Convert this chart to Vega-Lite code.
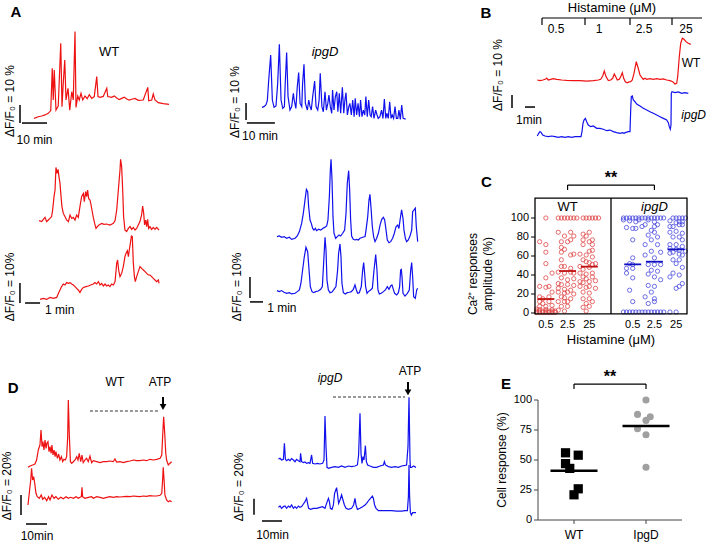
{
"$schema": "https://vega.github.io/schema/vega-lite/v6.json",
"width": 709, "height": 543, "padding": 0, "autosize": {"type": "none"},
"background": "white",
"config": {"view": {"stroke": null}, "font": "Liberation Sans", "text": {"fontSize": 12, "color": "black"}},
"resolve": {"scale": {"x": "independent", "y": "independent", "xOffset": "independent", "color": "independent"}},
"layer": [
{"layer": [
 {"data": {"values": [{"t":0,"v":-0.2},{"t":1.7,"v":0.7},{"t":3.1,"v":1.1},{"t":4.4,"v":1.7},{"t":5.7,"v":2.6},{"t":6.7,"v":4.1},{"t":7.3,"v":27.6},{"t":7.7,"v":10},{"t":8.1,"v":26.7},{"t":8.8,"v":4.4},{"t":9.7,"v":6.7},{"t":10.7,"v":41.5},{"t":11.2,"v":6.3},{"t":11.7,"v":19.3},{"t":12.3,"v":32.2},{"t":12.8,"v":10},{"t":13.6,"v":16.5},{"t":14.3,"v":4.4},{"t":15.1,"v":14.6},{"t":15.7,"v":10},{"t":16.4,"v":48},{"t":16.8,"v":5.9},{"t":17.5,"v":12.2},{"t":18.1,"v":10},{"t":18.8,"v":13.7},{"t":19.5,"v":10},{"t":20.4,"v":12.2},{"t":21.3,"v":10.7},{"t":22.1,"v":13},{"t":23.1,"v":10.9},{"t":24.1,"v":11.9},{"t":25.1,"v":23},{"t":25.6,"v":11.9},{"t":26.4,"v":11.5},{"t":27.7,"v":12},{"t":29.1,"v":16.5},{"t":29.5,"v":11.9},{"t":31.1,"v":11.5},{"t":32.1,"v":12.3},{"t":33.1,"v":11.1},{"t":34.1,"v":10.2},{"t":35.1,"v":10.9},{"t":36.1,"v":11.6},{"t":37.1,"v":10.6},{"t":38.1,"v":9.9},{"t":39.1,"v":10.4},{"t":40.4,"v":10.9},{"t":41.7,"v":9.8},{"t":43.7,"v":10},{"t":45.5,"v":17},{"t":45.9,"v":9.6},{"t":47.1,"v":10},{"t":47.7,"v":13.3},{"t":48.4,"v":10},{"t":49.7,"v":8.5},{"t":51.7,"v":8},{"t":54,"v":7.6}]},
  "mark": {"type": "line", "color": "#ee1111", "strokeWidth": 1.2},
  "encoding": {"x": {"field": "t", "type": "quantitative", "scale": {"domain": [0, 54], "range": [34, 169], "nice": false, "zero": false}, "axis": null},
               "y": {"field": "v", "type": "quantitative", "scale": {"domain": [0, 50], "range": [118, 28], "nice": false, "zero": false}, "axis": null}}},
 {"data": {"values": [{}]}, "mark": {"type": "rule", "color": "black", "strokeWidth": 1.5}, "encoding": {"x": {"datum": -5.6, "axis": null}, "y": {"datum": -2.8, "axis": null}, "y2": {"datum": 7.2}}},
 {"data": {"values": [{}]}, "mark": {"type": "rule", "color": "black", "strokeWidth": 1.5}, "encoding": {"x": {"datum": -4.8, "axis": null}, "x2": {"datum": 5.2}, "y": {"datum": -2.8, "axis": null}}},
 {"data": {"values": [{}]}, "mark": {"type": "text", "text": "10 min", "fontSize": 12}, "encoding": {"x": {"datum": 0.2, "axis": null}, "y": {"datum": -12.2, "axis": null}}},
 {"data": {"values": [{}]}, "mark": {"type": "text", "text": "ΔF/F₀ = 10 %", "fontSize": 12, "angle": 270}, "encoding": {"x": {"datum": -9.6, "axis": null}, "y": {"datum": 9.4, "axis": null}}},
 {"data": {"values": [{}]}, "mark": {"type": "text", "text": "WT", "fontSize": 13}, "encoding": {"x": {"datum": 30, "axis": null}, "y": {"datum": 36.7, "axis": null}}},
 {"data": {"values": [{}]}, "mark": {"type": "text", "text": "A", "fontSize": 15, "fontWeight": "bold"}, "encoding": {"x": {"datum": -7.2, "axis": null}, "y": {"datum": 58.9, "axis": null}}}
]},
{"layer": [
 {"data": {"values": [{"t":0,"v":0.4},{"t":0.7,"v":0.8},{"t":1.4,"v":1.8},{"t":1.9,"v":4.3},{"t":2.4,"v":16.5},{"t":3.1,"v":31.2},{"t":3.7,"v":4.7},{"t":4.3,"v":0.4},{"t":5,"v":1.2},{"t":5.6,"v":14.5},{"t":6.2,"v":37.5},{"t":6.8,"v":4.7},{"t":7.4,"v":-0.2},{"t":8,"v":0.8},{"t":8.3,"v":14.5},{"t":8.8,"v":32.7},{"t":9.3,"v":6.7},{"t":10,"v":-1.2},{"t":10.6,"v":0.8},{"t":11.2,"v":8.6},{"t":11.5,"v":4.7},{"t":12.1,"v":-0.2},{"t":12.6,"v":12.5},{"t":13.1,"v":20.8},{"t":13.6,"v":2.7},{"t":14.2,"v":0.8},{"t":14.5,"v":14.5},{"t":15,"v":25.7},{"t":15.5,"v":2.7},{"t":16.2,"v":-1.2},{"t":16.7,"v":4.7},{"t":17.1,"v":1.2},{"t":17.6,"v":-1.2},{"t":18.1,"v":6.7},{"t":18.8,"v":15.9},{"t":19.3,"v":0.8},{"t":19.9,"v":-1.2},{"t":20.4,"v":4.7},{"t":20.8,"v":20.4},{"t":21.4,"v":0.8},{"t":21.9,"v":-2.2},{"t":22.5,"v":9.6},{"t":23,"v":-1.2},{"t":23.5,"v":2.7},{"t":23.9,"v":7.6},{"t":24.4,"v":0.8},{"t":24.9,"v":-3.1},{"t":25.2,"v":10.6},{"t":25.7,"v":-1.2},{"t":26.2,"v":6.7},{"t":26.7,"v":9.6},{"t":27.1,"v":-2.2},{"t":27.6,"v":8.6},{"t":28.1,"v":-3.1},{"t":28.7,"v":12.2},{"t":29.2,"v":-3.1},{"t":29.6,"v":4.7},{"t":30,"v":9},{"t":30.5,"v":-4.1},{"t":31,"v":0.8},{"t":31.4,"v":2.7},{"t":31.9,"v":-4.1},{"t":32.4,"v":4.7},{"t":32.9,"v":-5.1},{"t":33.3,"v":5.7},{"t":33.8,"v":-4.1},{"t":34.3,"v":2.7},{"t":34.8,"v":-5.1},{"t":35.2,"v":4.7},{"t":35.7,"v":-5.1},{"t":36.2,"v":-1.2},{"t":36.7,"v":-4.1},{"t":37.1,"v":6.7},{"t":37.6,"v":-5.1},{"t":38.1,"v":4.7},{"t":38.6,"v":-4.1},{"t":39,"v":-5.1},{"t":39.5,"v":0.8},{"t":40,"v":-6.1},{"t":40.6,"v":-1.2},{"t":41.1,"v":-4.1},{"t":41.5,"v":-6.1},{"t":42.1,"v":-5.1},{"t":42.7,"v":-1.2},{"t":43.2,"v":-6.1},{"t":43.7,"v":5.3},{"t":44.2,"v":-6.1},{"t":44.6,"v":-3.1},{"t":45.1,"v":-6.1},{"t":45.6,"v":3.7},{"t":46.1,"v":-6.1},{"t":46.5,"v":-4.1},{"t":47,"v":-6.1},{"t":47.5,"v":0.8},{"t":48,"v":-6.1},{"t":48.5,"v":-6.1},{"t":48.9,"v":-1.2},{"t":49.4,"v":-6.7},{"t":49.9,"v":1.8},{"t":50.4,"v":-6.1},{"t":51.3,"v":-6.5}]},
  "mark": {"type": "line", "color": "#1111ee", "strokeWidth": 1.2},
  "encoding": {"x": {"field": "t", "type": "quantitative", "scale": {"domain": [0, 50], "range": [262, 402], "nice": false, "zero": false}, "axis": null},
               "y": {"field": "v", "type": "quantitative", "scale": {"domain": [0, 40], "range": [108, 40], "nice": false, "zero": false}, "axis": null}}},
 {"data": {"values": [{}]}, "mark": {"type": "rule", "color": "black", "strokeWidth": 1.5}, "encoding": {"x": {"datum": -5.7, "axis": null}, "y": {"datum": -7.1, "axis": null}, "y2": {"datum": 2.9}}},
 {"data": {"values": [{}]}, "mark": {"type": "rule", "color": "black", "strokeWidth": 1.5}, "encoding": {"x": {"datum": -5.4, "axis": null}, "x2": {"datum": 4.6}, "y": {"datum": -8.8, "axis": null}}},
 {"data": {"values": [{}]}, "mark": {"type": "text", "text": "10 min", "fontSize": 12}, "encoding": {"x": {"datum": -0.7, "axis": null}, "y": {"datum": -16.5, "axis": null}}},
 {"data": {"values": [{}]}, "mark": {"type": "text", "text": "ΔF/F₀ = 10 %", "fontSize": 12, "angle": 270}, "encoding": {"x": {"datum": -9.6, "axis": null}, "y": {"datum": 3.5, "axis": null}}},
 {"data": {"values": [{}]}, "mark": {"type": "text", "text": "ipgD", "fontSize": 13, "fontStyle": "italic"}, "encoding": {"x": {"datum": 22.5, "axis": null}, "y": {"datum": 32.9, "axis": null}}}
]},
{"layer": [
 {"data": {"values": [{"s":1,"t":0,"v":38.7},{"s":1,"t":0.18,"v":38.2},{"s":1,"t":0.29,"v":39.3},{"s":1,"t":0.4,"v":40.3},{"s":1,"t":0.51,"v":38.2},{"s":1,"t":0.62,"v":39},{"s":1,"t":0.73,"v":39.8},{"s":1,"t":0.84,"v":40.7},{"s":1,"t":0.91,"v":44},{"s":1,"t":1,"v":50.7},{"s":1,"t":1.07,"v":54},{"s":1,"t":1.13,"v":65.3},{"s":1,"t":1.2,"v":62.3},{"s":1,"t":1.27,"v":64.3},{"s":1,"t":1.33,"v":60.7},{"s":1,"t":1.4,"v":57.3},{"s":1,"t":1.47,"v":50.7},{"s":1,"t":1.53,"v":45.7},{"s":1,"t":1.62,"v":42.3},{"s":1,"t":1.73,"v":40.7},{"s":1,"t":1.84,"v":39},{"s":1,"t":1.96,"v":38.2},{"s":1,"t":2.07,"v":41.5},{"s":1,"t":2.18,"v":39.8},{"s":1,"t":2.29,"v":40.3},{"s":1,"t":2.4,"v":39},{"s":1,"t":2.51,"v":41.5},{"s":1,"t":2.62,"v":40.3},{"s":1,"t":2.73,"v":45.7},{"s":1,"t":2.84,"v":50.7},{"s":1,"t":2.96,"v":52.3},{"s":1,"t":3.02,"v":48.2},{"s":1,"t":3.11,"v":53.2},{"s":1,"t":3.18,"v":50.7},{"s":1,"t":3.24,"v":54},{"s":1,"t":3.31,"v":49.8},{"s":1,"t":3.4,"v":49},{"s":1,"t":3.47,"v":46.5},{"s":1,"t":3.53,"v":44},{"s":1,"t":3.62,"v":40.3},{"s":1,"t":3.71,"v":37.3},{"s":1,"t":3.8,"v":34.8},{"s":1,"t":3.89,"v":35.7},{"s":1,"t":4,"v":36.5},{"s":1,"t":4.18,"v":37.3},{"s":1,"t":4.33,"v":36.8},{"s":1,"t":4.51,"v":37},{"s":1,"t":4.73,"v":36.5},{"s":1,"t":4.96,"v":37.3},{"s":1,"t":5.07,"v":38.7},{"s":1,"t":5.18,"v":44},{"s":1,"t":5.29,"v":54},{"s":1,"t":5.4,"v":64},{"s":1,"t":5.44,"v":69.3},{"s":1,"t":5.51,"v":65.7},{"s":1,"t":5.58,"v":54},{"s":1,"t":5.64,"v":40.7},{"s":1,"t":5.73,"v":34},{"s":1,"t":5.84,"v":33.2},{"s":1,"t":5.96,"v":34.8},{"s":1,"t":6.07,"v":35.7},{"s":1,"t":6.18,"v":34.3},{"s":1,"t":6.29,"v":35.3},{"s":1,"t":6.4,"v":34},{"s":1,"t":6.51,"v":34.8},{"s":1,"t":6.62,"v":36.5},{"s":1,"t":6.73,"v":38.2},{"s":1,"t":6.84,"v":41.5},{"s":1,"t":6.91,"v":46},{"s":1,"t":6.98,"v":42.3},{"s":1,"t":7.04,"v":36.5},{"s":1,"t":7.11,"v":39},{"s":1,"t":7.18,"v":35.7},{"s":1,"t":7.24,"v":39.3},{"s":1,"t":7.31,"v":34.8},{"s":1,"t":7.4,"v":35.7},{"s":1,"t":7.51,"v":34.3},{"s":1,"t":7.62,"v":35.3},{"s":1,"t":7.73,"v":34.3},{"s":1,"t":7.84,"v":35.3},{"s":1,"t":8,"v":34},
 {"s":2,"t":0.07,"v":-0.7},{"s":2,"t":0.29,"v":-0.2},{"s":2,"t":0.51,"v":-0.7},{"s":2,"t":0.73,"v":0.3},{"s":2,"t":0.96,"v":-0.2},{"s":2,"t":1.18,"v":0.3},{"s":2,"t":1.29,"v":2.3},{"s":2,"t":1.4,"v":4},{"s":2,"t":1.51,"v":5.7},{"s":2,"t":1.62,"v":7},{"s":2,"t":1.73,"v":6.5},{"s":2,"t":1.84,"v":7.7},{"s":2,"t":1.96,"v":7.3},{"s":2,"t":2.07,"v":7.7},{"s":2,"t":2.18,"v":7},{"s":2,"t":2.29,"v":6.5},{"s":2,"t":2.4,"v":5.7},{"s":2,"t":2.51,"v":4.8},{"s":2,"t":2.62,"v":4},{"s":2,"t":2.73,"v":2.7},{"s":2,"t":2.84,"v":4.3},{"s":2,"t":2.96,"v":5.3},{"s":2,"t":3.13,"v":5.7},{"s":2,"t":3.29,"v":6},{"s":2,"t":3.44,"v":6.5},{"s":2,"t":3.62,"v":7},{"s":2,"t":3.73,"v":7.7},{"s":2,"t":3.84,"v":7},{"s":2,"t":3.96,"v":8.2},{"s":2,"t":4.07,"v":6.5},{"s":2,"t":4.18,"v":7.3},{"s":2,"t":4.29,"v":6},{"s":2,"t":4.4,"v":7},{"s":2,"t":4.51,"v":6},{"s":2,"t":4.62,"v":6.5},{"s":2,"t":4.73,"v":5.7},{"s":2,"t":4.84,"v":7},{"s":2,"t":4.96,"v":6.5},{"s":2,"t":5.07,"v":8.2},{"s":2,"t":5.18,"v":17.3},{"s":2,"t":5.24,"v":19},{"s":2,"t":5.31,"v":14},{"s":2,"t":5.4,"v":10.7},{"s":2,"t":5.51,"v":12.3},{"s":2,"t":5.62,"v":15.7},{"s":2,"t":5.73,"v":20.7},{"s":2,"t":5.8,"v":22.3},{"s":2,"t":5.89,"v":23.7},{"s":2,"t":5.96,"v":20.7},{"s":2,"t":6.02,"v":24},{"s":2,"t":6.09,"v":27.3},{"s":2,"t":6.16,"v":31},{"s":2,"t":6.22,"v":30.7},{"s":2,"t":6.29,"v":17.3},{"s":2,"t":6.36,"v":10.7},{"s":2,"t":6.42,"v":8.2},{"s":2,"t":6.51,"v":10.7},{"s":2,"t":6.62,"v":13.2},{"s":2,"t":6.73,"v":15.7},{"s":2,"t":6.84,"v":14.8},{"s":2,"t":6.96,"v":14},{"s":2,"t":7.07,"v":13.2},{"s":2,"t":7.18,"v":12.3},{"s":2,"t":7.29,"v":11.5},{"s":2,"t":7.4,"v":11.5},{"s":2,"t":7.51,"v":10.7},{"s":2,"t":7.62,"v":9.8},{"s":2,"t":7.73,"v":9},{"s":2,"t":7.84,"v":8.2},{"s":2,"t":7.96,"v":9},{"s":2,"t":8,"v":7.3}]},
  "mark": {"type": "line", "color": "#ee1111", "strokeWidth": 1.2},
  "encoding": {"x": {"field": "t", "type": "quantitative", "scale": {"domain": [0, 8], "range": [39, 159], "nice": false, "zero": false}, "axis": null},
               "y": {"field": "v", "type": "quantitative", "scale": {"domain": [0, 70], "range": [298, 158], "nice": false, "zero": false}, "axis": null},
               "detail": {"field": "s"}}},
 {"data": {"values": [{}]}, "mark": {"type": "rule", "color": "black", "strokeWidth": 1.5}, "encoding": {"x": {"datum": -1.27, "axis": null}, "y": {"datum": -2.5, "axis": null}, "y2": {"datum": 7.5}}},
 {"data": {"values": [{}]}, "mark": {"type": "rule", "color": "black", "strokeWidth": 1.5}, "encoding": {"x": {"datum": -0.93, "axis": null}, "x2": {"datum": 0.07}, "y": {"datum": -2.5, "axis": null}}},
 {"data": {"values": [{}]}, "mark": {"type": "text", "text": "1 min", "fontSize": 12, "align": "left"}, "encoding": {"x": {"datum": 0.4, "axis": null}, "y": {"datum": -6, "axis": null}}},
 {"data": {"values": [{}]}, "mark": {"type": "text", "text": "ΔF/F₀ = 10%", "fontSize": 12, "angle": 270}, "encoding": {"x": {"datum": -1.93, "axis": null}, "y": {"datum": 5.5, "axis": null}}}
]},
{"layer": [
 {"data": {"values": [{"s":1,"t":0,"v":25.9},{"s":1,"t":0.17,"v":26.2},{"s":1,"t":0.33,"v":25.6},{"s":1,"t":0.5,"v":25.9},{"s":1,"t":0.69,"v":25.1},{"s":1,"t":0.88,"v":25.6},{"s":1,"t":1.05,"v":24.6},{"s":1,"t":1.29,"v":25.1},{"s":1,"t":1.45,"v":26.2},{"s":1,"t":1.6,"v":28.3},{"s":1,"t":1.76,"v":32.2},{"s":1,"t":1.88,"v":37},{"s":1,"t":2,"v":43.3},{"s":1,"t":2.1,"v":48.4},{"s":1,"t":2.19,"v":47.3},{"s":1,"t":2.26,"v":40.2},{"s":1,"t":2.36,"v":33.8},{"s":1,"t":2.45,"v":32.2},{"s":1,"t":2.55,"v":29.8},{"s":1,"t":2.64,"v":29},{"s":1,"t":2.74,"v":29.8},{"s":1,"t":2.83,"v":28.7},{"s":1,"t":2.98,"v":29.4},{"s":1,"t":3.12,"v":29},{"s":1,"t":3.26,"v":29.8},{"s":1,"t":3.4,"v":30.3},{"s":1,"t":3.55,"v":31},{"s":1,"t":3.64,"v":33.8},{"s":1,"t":3.74,"v":44.9},{"s":1,"t":3.81,"v":57.6},{"s":1,"t":3.86,"v":62.7},{"s":1,"t":3.93,"v":52.9},{"s":1,"t":4,"v":35.4},{"s":1,"t":4.07,"v":27.5},{"s":1,"t":4.19,"v":25.1},{"s":1,"t":4.31,"v":25.9},{"s":1,"t":4.43,"v":26.7},{"s":1,"t":4.55,"v":26.2},{"s":1,"t":4.69,"v":27.5},{"s":1,"t":4.83,"v":29},{"s":1,"t":4.93,"v":37},{"s":1,"t":5.02,"v":51.3},{"s":1,"t":5.12,"v":57.3},{"s":1,"t":5.19,"v":48.1},{"s":1,"t":5.26,"v":33.8},{"s":1,"t":5.33,"v":26.2},{"s":1,"t":5.45,"v":24.6},{"s":1,"t":5.57,"v":24.3},{"s":1,"t":5.69,"v":24.6},{"s":1,"t":5.81,"v":24.3},{"s":1,"t":5.93,"v":25.1},{"s":1,"t":6.12,"v":25.6},{"s":1,"t":6.29,"v":25.9},{"s":1,"t":6.36,"v":29},{"s":1,"t":6.48,"v":35.4},{"s":1,"t":6.57,"v":43.3},{"s":1,"t":6.64,"v":46},{"s":1,"t":6.71,"v":40.2},{"s":1,"t":6.81,"v":30.6},{"s":1,"t":6.9,"v":25.9},{"s":1,"t":7,"v":23.5},{"s":1,"t":7.12,"v":25.1},{"s":1,"t":7.24,"v":27.5},{"s":1,"t":7.36,"v":31.4},{"s":1,"t":7.48,"v":34.1},{"s":1,"t":7.6,"v":35.1},{"s":1,"t":7.69,"v":33.8},{"s":1,"t":7.79,"v":29},{"s":1,"t":7.88,"v":24.3},{"s":1,"t":8,"v":23},{"s":1,"t":8.12,"v":23.5},{"s":1,"t":8.26,"v":25.1},{"s":1,"t":8.38,"v":27.5},{"s":1,"t":8.5,"v":30.6},{"s":1,"t":8.62,"v":31.4},{"s":1,"t":8.71,"v":29.8},{"s":1,"t":8.79,"v":33.8},{"s":1,"t":8.9,"v":38.6},{"s":1,"t":9,"v":34.6},{"s":1,"t":9.07,"v":29},{"s":1,"t":9.17,"v":25.1},{"s":1,"t":9.26,"v":23.5},{"s":1,"t":9.38,"v":24.3},{"s":1,"t":9.5,"v":26.2},{"s":1,"t":9.62,"v":29},{"s":1,"t":9.69,"v":37.8},{"s":1,"t":9.79,"v":38.6},{"s":1,"t":9.88,"v":39.4},{"s":1,"t":9.95,"v":30.6},{"s":1,"t":10.05,"v":23.5},
 {"s":2,"t":0,"v":0.2},{"s":2,"t":0.17,"v":-0.3},{"s":2,"t":0.33,"v":0.2},{"s":2,"t":0.5,"v":-0.6},{"s":2,"t":0.69,"v":-1.1},{"s":2,"t":0.88,"v":-0.8},{"s":2,"t":1.05,"v":-1.4},{"s":2,"t":1.29,"v":-1.1},{"s":2,"t":1.45,"v":-0.3},{"s":2,"t":1.6,"v":0.5},{"s":2,"t":1.71,"v":3.7},{"s":2,"t":1.83,"v":10},{"s":2,"t":1.95,"v":16.3},{"s":2,"t":2.07,"v":20.8},{"s":2,"t":2.19,"v":18.7},{"s":2,"t":2.29,"v":10},{"s":2,"t":2.38,"v":2.1},{"s":2,"t":2.5,"v":-0.3},{"s":2,"t":2.62,"v":-0.8},{"s":2,"t":2.76,"v":-0.3},{"s":2,"t":2.95,"v":0},{"s":2,"t":3.12,"v":0.8},{"s":2,"t":3.24,"v":2.1},{"s":2,"t":3.33,"v":13.2},{"s":2,"t":3.43,"v":25.6},{"s":2,"t":3.5,"v":19.5},{"s":2,"t":3.57,"v":5.2},{"s":2,"t":3.67,"v":0.5},{"s":2,"t":3.79,"v":-0.8},{"s":2,"t":3.93,"v":-0.5},{"s":2,"t":4.07,"v":0.8},{"s":2,"t":4.21,"v":2.1},{"s":2,"t":4.33,"v":10},{"s":2,"t":4.4,"v":17.9},{"s":2,"t":4.5,"v":22.4},{"s":2,"t":4.57,"v":16.3},{"s":2,"t":4.64,"v":3.7},{"s":2,"t":4.74,"v":-0.8},{"s":2,"t":4.88,"v":-1.4},{"s":2,"t":5.02,"v":-0.8},{"s":2,"t":5.17,"v":-0.6},{"s":2,"t":5.31,"v":-0.3},{"s":2,"t":5.45,"v":0.8},{"s":2,"t":5.57,"v":2.9},{"s":2,"t":5.67,"v":0.5},{"s":2,"t":5.76,"v":-1.1},{"s":2,"t":5.88,"v":-0.8},{"s":2,"t":6.02,"v":2.1},{"s":2,"t":6.12,"v":10},{"s":2,"t":6.19,"v":13.5},{"s":2,"t":6.26,"v":8.4},{"s":2,"t":6.33,"v":2.1},{"s":2,"t":6.43,"v":-1.1},{"s":2,"t":6.52,"v":-0.3},{"s":2,"t":6.69,"v":0.5},{"s":2,"t":6.81,"v":1.3},{"s":2,"t":6.93,"v":10},{"s":2,"t":7.05,"v":17.3},{"s":2,"t":7.14,"v":10},{"s":2,"t":7.21,"v":0.5},{"s":2,"t":7.31,"v":-1.4},{"s":2,"t":7.45,"v":-1.1},{"s":2,"t":7.6,"v":-0.3},{"s":2,"t":7.74,"v":0.5},{"s":2,"t":7.88,"v":2.1},{"s":2,"t":8,"v":0.8},{"s":2,"t":8.12,"v":2.4},{"s":2,"t":8.21,"v":2.9},{"s":2,"t":8.31,"v":0.8},{"s":2,"t":8.4,"v":-1.1},{"s":2,"t":8.55,"v":-1.9},{"s":2,"t":8.67,"v":-0.8},{"s":2,"t":8.76,"v":2.1},{"s":2,"t":8.83,"v":10},{"s":2,"t":8.88,"v":10.3},{"s":2,"t":8.93,"v":6.8},{"s":2,"t":9,"v":-1.1},{"s":2,"t":9.14,"v":-2.4},{"s":2,"t":9.31,"v":-1.1},{"s":2,"t":9.45,"v":0.5},{"s":2,"t":9.55,"v":10},{"s":2,"t":9.62,"v":13.5},{"s":2,"t":9.69,"v":6.8},{"s":2,"t":9.76,"v":-2.7},{"s":2,"t":9.88,"v":-3.5},{"s":2,"t":9.98,"v":0.5},{"s":2,"t":10.05,"v":1.3}]},
  "mark": {"type": "line", "color": "#1111ee", "strokeWidth": 1.2},
  "encoding": {"x": {"field": "t", "type": "quantitative", "scale": {"domain": [0, 10], "range": [277, 417], "nice": false, "zero": false}, "axis": null},
               "y": {"field": "v", "type": "quantitative", "scale": {"domain": [0, 60], "range": [291, 165], "nice": false, "zero": false}, "axis": null},
               "detail": {"field": "s"}}},
 {"data": {"values": [{}]}, "mark": {"type": "rule", "color": "black", "strokeWidth": 1.5}, "encoding": {"x": {"datum": -1.93, "axis": null}, "y": {"datum": -3.3, "axis": null}, "y2": {"datum": 6.7}}},
 {"data": {"values": [{}]}, "mark": {"type": "rule", "color": "black", "strokeWidth": 1.5}, "encoding": {"x": {"datum": -1.93, "axis": null}, "x2": {"datum": -1.0}, "y": {"datum": -5.2, "axis": null}}},
 {"data": {"values": [{}]}, "mark": {"type": "text", "text": "1 min", "fontSize": 12, "align": "left"}, "encoding": {"x": {"datum": -0.7, "axis": null}, "y": {"datum": -8.1, "axis": null}}},
 {"data": {"values": [{}]}, "mark": {"type": "text", "text": "ΔF/F₀ = 10%", "fontSize": 12, "angle": 270}, "encoding": {"x": {"datum": -2.86, "axis": null}, "y": {"datum": 1.9, "axis": null}}}
]},
{"layer": [
 {"data": {"values": [{"s":1,"t":0,"v":31.7},{"s":1,"t":1,"v":33},{"s":1,"t":2.2,"v":34},{"s":1,"t":3.3,"v":35},{"s":1,"t":4.1,"v":39},{"s":1,"t":4.9,"v":49},{"s":1,"t":5.7,"v":54},{"s":1,"t":6.2,"v":69},{"s":1,"t":6.7,"v":52.3},{"s":1,"t":7.1,"v":57.3},{"s":1,"t":7.6,"v":49},{"s":1,"t":8.1,"v":59},{"s":1,"t":8.6,"v":50.7},{"s":1,"t":9,"v":55.7},{"s":1,"t":9.5,"v":57.3},{"s":1,"t":10,"v":47.3},{"s":1,"t":10.5,"v":52.3},{"s":1,"t":11,"v":45.7},{"s":1,"t":11.4,"v":54},{"s":1,"t":11.9,"v":44},{"s":1,"t":12.4,"v":49},{"s":1,"t":12.9,"v":42.3},{"s":1,"t":13.3,"v":47.3},{"s":1,"t":14,"v":40.7},{"s":1,"t":14.6,"v":45},{"s":1,"t":15.2,"v":39},{"s":1,"t":15.9,"v":42.3},{"s":1,"t":16.5,"v":37.3},{"s":1,"t":17.1,"v":39.7},{"s":1,"t":17.8,"v":39},{"s":1,"t":18.4,"v":42.3},{"s":1,"t":18.9,"v":62.3},{"s":1,"t":19.2,"v":99},{"s":1,"t":19.7,"v":62.3},{"s":1,"t":20.2,"v":37.3},{"s":1,"t":20.8,"v":35.7},{"s":1,"t":21.6,"v":37.3},{"s":1,"t":22.4,"v":39},{"s":1,"t":23.2,"v":42.3},{"s":1,"t":23.8,"v":39},{"s":1,"t":24.4,"v":45.7},{"s":1,"t":25.1,"v":37.3},{"s":1,"t":25.7,"v":44},{"s":1,"t":26.3,"v":36.3},{"s":1,"t":27.1,"v":39},{"s":1,"t":27.9,"v":40.7},{"s":1,"t":28.7,"v":37.3},{"s":1,"t":29.5,"v":43},{"s":1,"t":30.3,"v":36.3},{"s":1,"t":31.1,"v":38.3},{"s":1,"t":32.7,"v":37.3},{"s":1,"t":34.3,"v":36.3},{"s":1,"t":35.9,"v":37.3},{"s":1,"t":37.5,"v":37.3},{"s":1,"t":39,"v":38},{"s":1,"t":40.6,"v":37.3},{"s":1,"t":41.4,"v":40},{"s":1,"t":42.2,"v":37},{"s":1,"t":43.8,"v":37.3},{"s":1,"t":45.4,"v":36.3},{"s":1,"t":47,"v":37.3},{"s":1,"t":48.6,"v":38},{"s":1,"t":50.2,"v":39},{"s":1,"t":51.7,"v":38.3},{"s":1,"t":53.3,"v":38.3},{"s":1,"t":54.9,"v":39},{"s":1,"t":56.5,"v":38.3},{"s":1,"t":58.1,"v":39.7},{"s":1,"t":59.7,"v":39},{"s":1,"t":61.3,"v":39.7},{"s":1,"t":62.9,"v":40.7},{"s":1,"t":63.7,"v":44},{"s":1,"t":64.1,"v":62.3},{"s":1,"t":64.6,"v":82.3},{"s":1,"t":65.1,"v":65.7},{"s":1,"t":65.6,"v":45.7},{"s":1,"t":66,"v":39},{"s":1,"t":66.8,"v":34},{"s":1,"t":67.6,"v":35.7},{"s":1,"t":68.4,"v":37.3},
 {"s":2,"t":0,"v":-6},{"s":2,"t":0.6,"v":5.7},{"s":2,"t":1.3,"v":19},{"s":2,"t":1.7,"v":30.7},{"s":2,"t":2.2,"v":19},{"s":2,"t":2.7,"v":22.3},{"s":2,"t":3.2,"v":15.7},{"s":2,"t":3.8,"v":5.7},{"s":2,"t":4.4,"v":2.3},{"s":2,"t":5.4,"v":0.7},{"s":2,"t":6.3,"v":4},{"s":2,"t":7,"v":-0.3},{"s":2,"t":7.9,"v":1.7},{"s":2,"t":8.9,"v":-1.7},{"s":2,"t":9.8,"v":2.3},{"s":2,"t":10.5,"v":-1},{"s":2,"t":11.4,"v":4},{"s":2,"t":12.4,"v":0.7},{"s":2,"t":13.3,"v":2.3},{"s":2,"t":14.4,"v":-0.3},{"s":2,"t":15.6,"v":1.7},{"s":2,"t":16.8,"v":0.3},{"s":2,"t":18.1,"v":2.3},{"s":2,"t":19.2,"v":0.7},{"s":2,"t":20.3,"v":1.7},{"s":2,"t":21.6,"v":0.7},{"s":2,"t":22.9,"v":2.3},{"s":2,"t":24,"v":0.7},{"s":2,"t":24.8,"v":1.7},{"s":2,"t":25.4,"v":2.3},{"s":2,"t":25.7,"v":11.7},{"s":2,"t":26,"v":2.3},{"s":2,"t":27.1,"v":0.7},{"s":2,"t":28.7,"v":1.7},{"s":2,"t":30.3,"v":2.3},{"s":2,"t":31.1,"v":0.7},{"s":2,"t":32.7,"v":2.3},{"s":2,"t":34.3,"v":1.7},{"s":2,"t":35.9,"v":0.7},{"s":2,"t":37.5,"v":1.7},{"s":2,"t":39,"v":2.3},{"s":2,"t":40.6,"v":1.7},{"s":2,"t":42.2,"v":2.3},{"s":2,"t":43.8,"v":2},{"s":2,"t":45.4,"v":2.3},{"s":2,"t":47,"v":2.7},{"s":2,"t":48.6,"v":2.3},{"s":2,"t":50.2,"v":3},{"s":2,"t":51.7,"v":2.7},{"s":2,"t":53.3,"v":2.3},{"s":2,"t":54.9,"v":3},{"s":2,"t":56.5,"v":2.7},{"s":2,"t":58.1,"v":3.3},{"s":2,"t":59.7,"v":3},{"s":2,"t":61.3,"v":3},{"s":2,"t":62.9,"v":3.7},{"s":2,"t":63.7,"v":5.7},{"s":2,"t":64.1,"v":19},{"s":2,"t":64.4,"v":31.7},{"s":2,"t":64.8,"v":19},{"s":2,"t":65.2,"v":4},{"s":2,"t":66,"v":-1},{"s":2,"t":66.8,"v":-2.7},{"s":2,"t":67.6,"v":-1.7},{"s":2,"t":68.4,"v":-2.7}]},
  "mark": {"type": "line", "color": "#ee1111", "strokeWidth": 1.2},
  "encoding": {"x": {"field": "t", "type": "quantitative", "scale": {"domain": [0, 70], "range": [28, 175], "nice": false, "zero": false}, "axis": null},
               "y": {"field": "v", "type": "quantitative", "scale": {"domain": [0, 100], "range": [499, 399], "nice": false, "zero": false}, "axis": null},
               "detail": {"field": "s"}}},
 {"data": {"values": [{}]}, "mark": {"type": "rule", "color": "black", "strokeWidth": 1.5}, "encoding": {"x": {"datum": -3.33, "axis": null}, "y": {"datum": -16, "axis": null}, "y2": {"datum": 4}}},
 {"data": {"values": [{}]}, "mark": {"type": "rule", "color": "black", "strokeWidth": 1.5}, "encoding": {"x": {"datum": -0.95, "axis": null}, "x2": {"datum": 9.05}, "y": {"datum": -25, "axis": null}}},
 {"data": {"values": [{}]}, "mark": {"type": "rule", "color": "#333333", "strokeWidth": 1, "strokeDash": [3, 2]}, "encoding": {"x": {"datum": 29.5, "axis": null}, "x2": {"datum": 62.9}, "y": {"datum": 88, "axis": null}}},
 {"data": {"values": [{}]}, "mark": {"type": "rule", "color": "black", "strokeWidth": 2}, "encoding": {"x": {"datum": 64.3, "axis": null}, "y": {"datum": 102, "axis": null}, "y2": {"datum": 94}}},
 {"data": {"values": [{}]}, "mark": {"type": "point", "shape": "triangle-down", "filled": true, "color": "black", "size": 45, "opacity": 1}, "encoding": {"x": {"datum": 64.3, "axis": null}, "y": {"datum": 92, "axis": null}}},
 {"data": {"values": [{}]}, "mark": {"type": "text", "text": "10min", "fontSize": 12}, "encoding": {"x": {"datum": 4.3, "axis": null}, "y": {"datum": -37, "axis": null}}},
 {"data": {"values": [{}]}, "mark": {"type": "text", "text": "ΔF/F₀ = 20%", "fontSize": 12, "angle": 270}, "encoding": {"x": {"datum": -10, "axis": null}, "y": {"datum": 13, "axis": null}}},
 {"data": {"values": [{}]}, "mark": {"type": "text", "text": "WT", "fontSize": 12}, "encoding": {"x": {"datum": 41.4, "axis": null}, "y": {"datum": 117, "axis": null}}},
 {"data": {"values": [{}]}, "mark": {"type": "text", "text": "ATP", "fontSize": 12}, "encoding": {"x": {"datum": 62.9, "axis": null}, "y": {"datum": 117, "axis": null}}},
 {"data": {"values": [{}]}, "mark": {"type": "text", "text": "D", "fontSize": 15, "fontWeight": "bold"}, "encoding": {"x": {"datum": -7.1, "axis": null}, "y": {"datum": 111, "axis": null}}}
]},
{"layer": [
 {"data": {"values": [{"s":1,"t":0.2,"v":63.8},{"s":1,"t":1,"v":64.6},{"s":1,"t":1.8,"v":62.5},{"s":1,"t":2.7,"v":63.3},{"s":1,"t":3.2,"v":83.3},{"s":1,"t":3.7,"v":63.3},{"s":1,"t":4.3,"v":61.7},{"s":1,"t":5.2,"v":63.3},{"s":1,"t":6,"v":61.7},{"s":1,"t":6.8,"v":64.2},{"s":1,"t":7.7,"v":62.5},{"s":1,"t":8.5,"v":60.4},{"s":1,"t":9.3,"v":63.3},{"s":1,"t":10.2,"v":61.7},{"s":1,"t":11,"v":60.4},{"s":1,"t":11.3,"v":70.8},{"s":1,"t":11.8,"v":60.4},{"s":1,"t":12.7,"v":59.2},{"s":1,"t":13.5,"v":60},{"s":1,"t":14.3,"v":58.3},{"s":1,"t":15.2,"v":59.2},{"s":1,"t":16,"v":58.3},{"s":1,"t":16.8,"v":68.8},{"s":1,"t":17.3,"v":58.3},{"s":1,"t":18.5,"v":57.5},{"s":1,"t":19.7,"v":58.3},{"s":1,"t":21,"v":57.5},{"s":1,"t":22.3,"v":58.3},{"s":1,"t":23,"v":62.5},{"s":1,"t":23.5,"v":117.5},{"s":1,"t":24,"v":79.2},{"s":1,"t":24.5,"v":53.3},{"s":1,"t":25.3,"v":52.1},{"s":1,"t":26.8,"v":53.3},{"s":1,"t":28.5,"v":54.2},{"s":1,"t":30.2,"v":53.3},{"s":1,"t":31.8,"v":55},{"s":1,"t":33.5,"v":53.3},{"s":1,"t":35.2,"v":55},{"s":1,"t":36.8,"v":54.2},{"s":1,"t":38.5,"v":55},{"s":1,"t":39.7,"v":56.3},{"s":1,"t":40.3,"v":68.8},{"s":1,"t":41,"v":120.8},{"s":1,"t":41.5,"v":70.8},{"s":1,"t":42,"v":58.3},{"s":1,"t":42.5,"v":66.7},{"s":1,"t":43,"v":62.5},{"s":1,"t":43.7,"v":80.4},{"s":1,"t":44.2,"v":60.4},{"s":1,"t":44.8,"v":56.3},{"s":1,"t":46,"v":55},{"s":1,"t":47.7,"v":53.3},{"s":1,"t":49.3,"v":53.3},{"s":1,"t":51,"v":55},{"s":1,"t":52.7,"v":56.3},{"s":1,"t":53.2,"v":60.4},{"s":1,"t":53.7,"v":56.3},{"s":1,"t":55.2,"v":54.2},{"s":1,"t":56.8,"v":53.3},{"s":1,"t":58.5,"v":54.2},{"s":1,"t":60.2,"v":53.3},{"s":1,"t":61.8,"v":55},{"s":1,"t":63.5,"v":55.8},{"s":1,"t":64.3,"v":56.3},{"s":1,"t":65,"v":79.2},{"s":1,"t":65.5,"v":140.8},{"s":1,"t":66,"v":62.5},{"s":1,"t":66.2,"v":53.3},{"s":1,"t":66.8,"v":53.3},{"s":1,"t":67.7,"v":55},{"s":1,"t":69,"v":53.3},
 {"s":2,"t":0.2,"v":3.3},{"s":2,"t":1,"v":5},{"s":2,"t":1.8,"v":2.1},{"s":2,"t":2.7,"v":4.2},{"s":2,"t":3.5,"v":5},{"s":2,"t":4.3,"v":2.1},{"s":2,"t":5.2,"v":5},{"s":2,"t":6,"v":3.3},{"s":2,"t":6.8,"v":6.3},{"s":2,"t":7.7,"v":2.1},{"s":2,"t":8.5,"v":4.2},{"s":2,"t":9.3,"v":2.1},{"s":2,"t":10.2,"v":5},{"s":2,"t":11,"v":3.3},{"s":2,"t":11.8,"v":4.2},{"s":2,"t":12.7,"v":7.5},{"s":2,"t":13.5,"v":10.4},{"s":2,"t":14.3,"v":14.6},{"s":2,"t":14.8,"v":8.3},{"s":2,"t":15.3,"v":2.1},{"s":2,"t":16.3,"v":0.8},{"s":2,"t":17.7,"v":2.1},{"s":2,"t":19.3,"v":2.1},{"s":2,"t":21,"v":3.3},{"s":2,"t":22.3,"v":4.2},{"s":2,"t":23.5,"v":2.1},{"s":2,"t":24.3,"v":8.3},{"s":2,"t":25.2,"v":14.6},{"s":2,"t":25.7,"v":10.4},{"s":2,"t":26.2,"v":2.1},{"s":2,"t":27,"v":0.8},{"s":2,"t":27.7,"v":6.3},{"s":2,"t":28.3,"v":20.8},{"s":2,"t":29.3,"v":27.9},{"s":2,"t":29.8,"v":18.8},{"s":2,"t":30.3,"v":8.3},{"s":2,"t":31,"v":12.5},{"s":2,"t":31.8,"v":18.8},{"s":2,"t":32.5,"v":12.5},{"s":2,"t":33.2,"v":6.3},{"s":2,"t":34,"v":2.1},{"s":2,"t":35.2,"v":0.8},{"s":2,"t":36.8,"v":2.1},{"s":2,"t":37.8,"v":6.3},{"s":2,"t":38.5,"v":14.6},{"s":2,"t":39,"v":6.3},{"s":2,"t":39.7,"v":0.8},{"s":2,"t":41,"v":2.1},{"s":2,"t":42.3,"v":4.2},{"s":2,"t":43.5,"v":6.3},{"s":2,"t":44.3,"v":8.3},{"s":2,"t":45.5,"v":12.5},{"s":2,"t":47.2,"v":17.5},{"s":2,"t":47.7,"v":14.6},{"s":2,"t":48.3,"v":6.3},{"s":2,"t":49,"v":2.1},{"s":2,"t":50.2,"v":-0.8},{"s":2,"t":51.8,"v":-0.8},{"s":2,"t":54.3,"v":-0.8},{"s":2,"t":56.8,"v":-0.8},{"s":2,"t":59.3,"v":-1.3},{"s":2,"t":61.8,"v":-1.3},{"s":2,"t":63.5,"v":-0.8},{"s":2,"t":64.7,"v":-0.8},{"s":2,"t":65.2,"v":16.7},{"s":2,"t":65.5,"v":56.3},{"s":2,"t":65.8,"v":16.7},{"s":2,"t":66.2,"v":-3.3},{"s":2,"t":66.7,"v":-6.3},{"s":2,"t":67.3,"v":-3.3},{"s":2,"t":69,"v":-3.3}]},
  "mark": {"type": "line", "color": "#1111ee", "strokeWidth": 1.2},
  "encoding": {"x": {"field": "t", "type": "quantitative", "scale": {"domain": [0, 70], "range": [278, 418], "nice": false, "zero": false}, "axis": null},
               "y": {"field": "v", "type": "quantitative", "scale": {"domain": [0, 150], "range": [510, 390], "nice": false, "zero": false}, "axis": null},
               "detail": {"field": "s"}}},
 {"data": {"values": [{}]}, "mark": {"type": "rule", "color": "black", "strokeWidth": 1.5}, "encoding": {"x": {"datum": -12, "axis": null}, "y": {"datum": -6, "axis": null}, "y2": {"datum": 14}}},
 {"data": {"values": [{}]}, "mark": {"type": "rule", "color": "black", "strokeWidth": 1.5}, "encoding": {"x": {"datum": -8, "axis": null}, "x2": {"datum": 2}, "y": {"datum": -13.75, "axis": null}}},
 {"data": {"values": [{}]}, "mark": {"type": "rule", "color": "#333333", "strokeWidth": 1, "strokeDash": [3, 2]}, "encoding": {"x": {"datum": 27.5, "axis": null}, "x2": {"datum": 63.5}, "y": {"datum": 141.25, "axis": null}}},
 {"data": {"values": [{}]}, "mark": {"type": "rule", "color": "black", "strokeWidth": 2}, "encoding": {"x": {"datum": 65, "axis": null}, "y": {"datum": 160, "axis": null}, "y2": {"datum": 150}}},
 {"data": {"values": [{}]}, "mark": {"type": "point", "shape": "triangle-down", "filled": true, "color": "black", "size": 45, "opacity": 1}, "encoding": {"x": {"datum": 65, "axis": null}, "y": {"datum": 147, "axis": null}}},
 {"data": {"values": [{}]}, "mark": {"type": "text", "text": "10min", "fontSize": 12}, "encoding": {"x": {"datum": -2.75, "axis": null}, "y": {"datum": -31, "axis": null}}},
 {"data": {"values": [{}]}, "mark": {"type": "text", "text": "ΔF/F₀ = 20%", "fontSize": 12, "angle": 270}, "encoding": {"x": {"datum": -19.5, "axis": null}, "y": {"datum": 28.75, "axis": null}}},
 {"data": {"values": [{}]}, "mark": {"type": "text", "text": "ipgD", "fontSize": 12, "fontStyle": "italic"}, "encoding": {"x": {"datum": 26, "axis": null}, "y": {"datum": 165, "axis": null}}},
 {"data": {"values": [{}]}, "mark": {"type": "text", "text": "ATP", "fontSize": 12}, "encoding": {"x": {"datum": 66, "axis": null}, "y": {"datum": 173.75, "axis": null}}}
]},
{"layer": [
 {"data": {"values": [{"t":0.03,"v":0},{"t":0.3,"v":-0.5},{"t":0.6,"v":0},{"t":0.87,"v":0.8},{"t":0.97,"v":1.5},{"t":1.13,"v":0},{"t":1.37,"v":0.5},{"t":1.63,"v":1},{"t":1.97,"v":0.5},{"t":2.47,"v":0},{"t":2.97,"v":-0.3},{"t":3.63,"v":-0.5},{"t":4.3,"v":-0.5},{"t":4.97,"v":-0.8},{"t":5.63,"v":-0.5},{"t":6.13,"v":0},{"t":6.37,"v":0.5},{"t":6.57,"v":3.1},{"t":6.73,"v":6.9},{"t":6.9,"v":2.6},{"t":7.13,"v":-0.5},{"t":7.37,"v":0},{"t":7.57,"v":1.3},{"t":7.73,"v":4.6},{"t":7.9,"v":2.1},{"t":8.03,"v":0},{"t":8.23,"v":0.5},{"t":8.4,"v":3.1},{"t":8.53,"v":5.6},{"t":8.67,"v":1.3},{"t":8.83,"v":-1.3},{"t":9.03,"v":-2.1},{"t":9.2,"v":-1.5},{"t":9.37,"v":-1.3},{"t":9.53,"v":0},{"t":9.7,"v":5.1},{"t":9.83,"v":10.3},{"t":9.93,"v":14.1},{"t":10.03,"v":11.5},{"t":10.17,"v":7.7},{"t":10.3,"v":3.8},{"t":10.47,"v":2.1},{"t":10.63,"v":0.5},{"t":10.8,"v":1.3},{"t":10.97,"v":0.5},{"t":11.3,"v":1},{"t":11.63,"v":0.5},{"t":11.97,"v":1},{"t":12.3,"v":0.5},{"t":12.63,"v":0.8},{"t":12.97,"v":0},{"t":13.3,"v":-0.5},{"t":13.57,"v":-1.3},{"t":13.8,"v":-3.1},{"t":13.97,"v":-2.6},{"t":14.07,"v":2.6},{"t":14.23,"v":17.9},{"t":14.37,"v":28.2},{"t":14.53,"v":32.1},{"t":14.7,"v":31.3},{"t":14.9,"v":29.5},{"t":15.13,"v":28.2},{"t":15.37,"v":27.4}]},
  "mark": {"type": "line", "color": "#ee1111", "strokeWidth": 1.2},
  "encoding": {"x": {"field": "t", "type": "quantitative", "scale": {"domain": [0, 15], "range": [537, 687], "nice": false, "zero": false}, "axis": null},
               "y": {"field": "v", "type": "quantitative", "scale": {"domain": [0, 30], "range": [80, 41], "nice": false, "zero": false}, "axis": null}}},
 {"data": {"values": [{"t":0.03,"v":-43.1},{"t":0.17,"v":-41},{"t":0.3,"v":-39.7},{"t":0.43,"v":-40.5},{"t":0.57,"v":-42.3},{"t":0.8,"v":-43.1},{"t":1.13,"v":-43.6},{"t":1.47,"v":-43.1},{"t":1.8,"v":-43.6},{"t":2.13,"v":-44.1},{"t":2.47,"v":-43.6},{"t":2.8,"v":-44.1},{"t":3.13,"v":-43.6},{"t":3.47,"v":-44.1},{"t":3.8,"v":-43.6},{"t":4.13,"v":-43.6},{"t":4.4,"v":-43.6},{"t":4.5,"v":-39.7},{"t":4.6,"v":-33.3},{"t":4.7,"v":-30.8},{"t":4.83,"v":-29.5},{"t":4.97,"v":-32.1},{"t":5.13,"v":-34.6},{"t":5.37,"v":-35.9},{"t":5.63,"v":-35.4},{"t":5.97,"v":-37.2},{"t":6.3,"v":-37.2},{"t":6.63,"v":-37.9},{"t":6.97,"v":-39},{"t":7.3,"v":-38.5},{"t":7.63,"v":-39.7},{"t":7.97,"v":-40.5},{"t":8.3,"v":-41},{"t":8.57,"v":-40.5},{"t":8.7,"v":-41},{"t":8.83,"v":-40.5},{"t":9.13,"v":-39.7},{"t":9.3,"v":-39.7},{"t":9.37,"v":-23.1},{"t":9.43,"v":-12.8},{"t":9.53,"v":-12.3},{"t":9.63,"v":-15.4},{"t":9.8,"v":-16.7},{"t":9.97,"v":-18.5},{"t":10.3,"v":-20},{"t":10.63,"v":-21.8},{"t":10.97,"v":-23.1},{"t":11.3,"v":-24.4},{"t":11.63,"v":-25.6},{"t":11.97,"v":-26.9},{"t":12.3,"v":-28.2},{"t":12.63,"v":-29.5},{"t":12.97,"v":-30.8},{"t":13.13,"v":-32.8},{"t":13.23,"v":-35.9},{"t":13.33,"v":-37.9},{"t":13.4,"v":-34.6},{"t":13.43,"v":-10.3},{"t":13.5,"v":-9},{"t":13.8,"v":-9.7},{"t":14.13,"v":-9.2},{"t":14.47,"v":-10.3},{"t":14.8,"v":-9.7},{"t":15.13,"v":-10.3}]},
  "mark": {"type": "line", "color": "#1111ee", "strokeWidth": 1.2},
  "encoding": {"x": {"field": "t", "type": "quantitative", "axis": null}, "y": {"field": "v", "type": "quantitative", "axis": null}}},
 {"data": {"values": [{"t":0.5,"d":"0.5"},{"t":4.8,"d":"1"},{"t":9.3,"d":"2.5"},{"t":13.5,"d":"25"}]},
  "mark": {"type": "rule", "color": "black", "strokeWidth": 1.2},
  "encoding": {"x": {"field": "t", "type": "quantitative", "axis": null}, "y": {"datum": 47.7, "axis": null}, "y2": {"datum": 42.3}}},
 {"data": {"values": [{"t":0.5,"d":"0.5"},{"t":4.8,"d":"1"},{"t":9.3,"d":"2.5"},{"t":13.5,"d":"25"}]},
  "mark": {"type": "text", "fontSize": 12, "dx": 14},
  "encoding": {"x": {"field": "t", "type": "quantitative", "axis": null}, "y": {"datum": 39.2, "axis": null}, "text": {"field": "d"}}},
 {"data": {"values": [{}]}, "mark": {"type": "rule", "color": "black", "strokeWidth": 1.2}, "encoding": {"x": {"datum": 0.5, "axis": null}, "x2": {"datum": 16.5}, "y": {"datum": 47.7, "axis": null}}},
 {"data": {"values": [{}]}, "mark": {"type": "text", "text": "Histamine (μM)", "fontSize": 13}, "encoding": {"x": {"datum": 7.5, "axis": null}, "y": {"datum": 55.4, "axis": null}}},
 {"data": {"values": [{}]}, "mark": {"type": "text", "text": "B", "fontSize": 15, "fontWeight": "bold"}, "encoding": {"x": {"datum": -5.1, "axis": null}, "y": {"datum": 51.5, "axis": null}}},
 {"data": {"values": [{}]}, "mark": {"type": "text", "text": "WT", "fontSize": 12}, "encoding": {"x": {"datum": 15.4, "axis": null}, "y": {"datum": 13.1, "axis": null}}},
 {"data": {"values": [{}]}, "mark": {"type": "text", "text": "ipgD", "fontSize": 12, "fontStyle": "italic", "align": "right"}, "encoding": {"x": {"datum": 16.9, "axis": null}, "y": {"datum": -26.9, "axis": null}}},
 {"data": {"values": [{}]}, "mark": {"type": "rule", "color": "black", "strokeWidth": 1.5}, "encoding": {"x": {"datum": -2.5, "axis": null}, "y": {"datum": -21.5, "axis": null}, "y2": {"datum": -11.5}}},
 {"data": {"values": [{}]}, "mark": {"type": "rule", "color": "black", "strokeWidth": 1.5}, "encoding": {"x": {"datum": -1.2, "axis": null}, "x2": {"datum": -0.2}, "y": {"datum": -20.8, "axis": null}}},
 {"data": {"values": [{}]}, "mark": {"type": "text", "text": "1min", "fontSize": 12}, "encoding": {"x": {"datum": -0.8, "axis": null}, "y": {"datum": -30.8, "axis": null}}},
 {"data": {"values": [{}]}, "mark": {"type": "text", "text": "ΔF/F₀ = 10 %", "fontSize": 12, "angle": 270}, "encoding": {"x": {"datum": -3.9, "axis": null}, "y": {"datum": 3.8, "axis": null}}}
]},
{"layer": [
 {"data": {"values": [
  {"c":"WT 0.5","v":100,"j":3},{"c":"WT 0.5","v":75,"j":1},{"c":"WT 0.5","v":72,"j":3},{"c":"WT 0.5","v":64,"j":3},{"c":"WT 0.5","v":52,"j":3},{"c":"WT 0.5","v":42,"j":5},{"c":"WT 0.5","v":37,"j":3},{"c":"WT 0.5","v":28,"j":1},{"c":"WT 0.5","v":27,"j":3},{"c":"WT 0.5","v":28,"j":4},{"c":"WT 0.5","v":22,"j":5},{"c":"WT 0.5","v":17,"j":1},{"c":"WT 0.5","v":15,"j":2},{"c":"WT 0.5","v":17,"j":4},{"c":"WT 0.5","v":12,"j":1},{"c":"WT 0.5","v":10,"j":2},{"c":"WT 0.5","v":12,"j":4},{"c":"WT 0.5","v":7,"j":1},{"c":"WT 0.5","v":7,"j":3},{"c":"WT 0.5","v":8,"j":5},{"c":"WT 0.5","v":4,"j":0},
  {"c":"WT 0.5","v":2,"j":0},{"c":"WT 0.5","v":2,"j":1},{"c":"WT 0.5","v":2,"j":2},{"c":"WT 0.5","v":2,"j":3},{"c":"WT 0.5","v":2,"j":4},{"c":"WT 0.5","v":2,"j":5},{"c":"WT 0.5","v":2,"j":6},
  {"c":"WT 0.5","v":0.5,"j":0},{"c":"WT 0.5","v":0.5,"j":1},{"c":"WT 0.5","v":0.5,"j":2},{"c":"WT 0.5","v":0.5,"j":3},{"c":"WT 0.5","v":0.5,"j":4},{"c":"WT 0.5","v":0.5,"j":5},{"c":"WT 0.5","v":0.5,"j":6},{"c":"WT 0.5","v":3.5,"j":1},{"c":"WT 0.5","v":3.5,"j":3},{"c":"WT 0.5","v":3.5,"j":5},
  {"c":"WT 2.5","v":100,"j":0},{"c":"WT 2.5","v":100,"j":1},{"c":"WT 2.5","v":100,"j":2},{"c":"WT 2.5","v":100,"j":3},{"c":"WT 2.5","v":100,"j":4},{"c":"WT 2.5","v":100,"j":5},{"c":"WT 2.5","v":100,"j":6},
  {"c":"WT 2.5","v":85,"j":0},{"c":"WT 2.5","v":85,"j":4},{"c":"WT 2.5","v":81,"j":2},{"c":"WT 2.5","v":81,"j":5},{"c":"WT 2.5","v":75,"j":1},{"c":"WT 2.5","v":75,"j":3},{"c":"WT 2.5","v":77,"j":4},{"c":"WT 2.5","v":69,"j":1},{"c":"WT 2.5","v":67,"j":2},{"c":"WT 2.5","v":61,"j":4},{"c":"WT 2.5","v":64,"j":1},{"c":"WT 2.5","v":62,"j":5},{"c":"WT 2.5","v":56,"j":1},{"c":"WT 2.5","v":49,"j":1},{"c":"WT 2.5","v":49,"j":2},{"c":"WT 2.5","v":47,"j":4},{"c":"WT 2.5","v":43,"j":0},{"c":"WT 2.5","v":42,"j":2},{"c":"WT 2.5","v":43,"j":4},{"c":"WT 2.5","v":42,"j":5},{"c":"WT 2.5","v":37,"j":1},{"c":"WT 2.5","v":35,"j":3},{"c":"WT 2.5","v":36,"j":5},{"c":"WT 2.5","v":31,"j":0},{"c":"WT 2.5","v":30,"j":1},{"c":"WT 2.5","v":30,"j":3},{"c":"WT 2.5","v":29,"j":5},{"c":"WT 2.5","v":26,"j":0},{"c":"WT 2.5","v":25,"j":2},{"c":"WT 2.5","v":24,"j":4},{"c":"WT 2.5","v":22,"j":0},{"c":"WT 2.5","v":21,"j":2},{"c":"WT 2.5","v":22,"j":3},{"c":"WT 2.5","v":20,"j":5},{"c":"WT 2.5","v":17,"j":1},{"c":"WT 2.5","v":16,"j":2},{"c":"WT 2.5","v":15,"j":4},{"c":"WT 2.5","v":12,"j":0},{"c":"WT 2.5","v":12,"j":2},{"c":"WT 2.5","v":12,"j":3},{"c":"WT 2.5","v":7,"j":1},{"c":"WT 2.5","v":7,"j":3},{"c":"WT 2.5","v":3,"j":0},{"c":"WT 2.5","v":2,"j":2},
  {"c":"WT 25","v":100,"j":1},{"c":"WT 25","v":100,"j":2},{"c":"WT 25","v":100,"j":3},{"c":"WT 25","v":100,"j":4},{"c":"WT 25","v":100,"j":5},{"c":"WT 25","v":100,"j":6},
  {"c":"WT 25","v":83,"j":1},{"c":"WT 25","v":81,"j":2},{"c":"WT 25","v":85,"j":3},{"c":"WT 25","v":77,"j":1},{"c":"WT 25","v":75,"j":3},{"c":"WT 25","v":77,"j":4},{"c":"WT 25","v":72,"j":1},{"c":"WT 25","v":72,"j":4},{"c":"WT 25","v":65,"j":3},{"c":"WT 25","v":66,"j":4},{"c":"WT 25","v":62,"j":0},{"c":"WT 25","v":61,"j":2},{"c":"WT 25","v":59,"j":4},{"c":"WT 25","v":56,"j":1},{"c":"WT 25","v":54,"j":2},{"c":"WT 25","v":53,"j":3},{"c":"WT 25","v":52,"j":5},{"c":"WT 25","v":49,"j":0},{"c":"WT 25","v":46,"j":1},{"c":"WT 25","v":48,"j":3},{"c":"WT 25","v":51,"j":4},{"c":"WT 25","v":42,"j":0},{"c":"WT 25","v":41,"j":2},{"c":"WT 25","v":42,"j":4},{"c":"WT 25","v":38,"j":1},{"c":"WT 25","v":36,"j":2},{"c":"WT 25","v":38,"j":4},{"c":"WT 25","v":33,"j":0},{"c":"WT 25","v":32,"j":1},{"c":"WT 25","v":33,"j":3},{"c":"WT 25","v":34,"j":5},{"c":"WT 25","v":28,"j":0},{"c":"WT 25","v":27,"j":2},{"c":"WT 25","v":28,"j":3},{"c":"WT 25","v":26,"j":5},{"c":"WT 25","v":22,"j":1},{"c":"WT 25","v":21,"j":3},{"c":"WT 25","v":15,"j":1},{"c":"WT 25","v":15,"j":3},{"c":"WT 25","v":10,"j":2},{"c":"WT 25","v":12,"j":4},{"c":"WT 25","v":6,"j":1},{"c":"WT 25","v":7,"j":3},{"c":"WT 25","v":2,"j":2},
  {"c":"ipgD 0.5","v":100,"j":0},{"c":"ipgD 0.5","v":100,"j":1},{"c":"ipgD 0.5","v":100,"j":2},{"c":"ipgD 0.5","v":100,"j":3},{"c":"ipgD 0.5","v":100,"j":4},{"c":"ipgD 0.5","v":100,"j":5},{"c":"ipgD 0.5","v":100,"j":6},
  {"c":"ipgD 0.5","v":98,"j":0},{"c":"ipgD 0.5","v":97,"j":2},{"c":"ipgD 0.5","v":96,"j":4},{"c":"ipgD 0.5","v":98,"j":5},{"c":"ipgD 0.5","v":90,"j":1},{"c":"ipgD 0.5","v":89,"j":3},{"c":"ipgD 0.5","v":89,"j":4},{"c":"ipgD 0.5","v":91,"j":6},{"c":"ipgD 0.5","v":77,"j":3},{"c":"ipgD 0.5","v":58,"j":3},{"c":"ipgD 0.5","v":52,"j":2},{"c":"ipgD 0.5","v":51,"j":3},{"c":"ipgD 0.5","v":47,"j":1},{"c":"ipgD 0.5","v":47,"j":3},{"c":"ipgD 0.5","v":42,"j":1},{"c":"ipgD 0.5","v":37,"j":3},{"c":"ipgD 0.5","v":24,"j":2},{"c":"ipgD 0.5","v":12,"j":3},
  {"c":"ipgD 0.5","v":1,"j":0},{"c":"ipgD 0.5","v":1,"j":1},{"c":"ipgD 0.5","v":1,"j":2},{"c":"ipgD 0.5","v":1,"j":3},{"c":"ipgD 0.5","v":1,"j":4},{"c":"ipgD 0.5","v":1,"j":5},{"c":"ipgD 0.5","v":1,"j":6},
  {"c":"ipgD 2.5","v":100,"j":0},{"c":"ipgD 2.5","v":100,"j":1},{"c":"ipgD 2.5","v":100,"j":2},{"c":"ipgD 2.5","v":100,"j":3},{"c":"ipgD 2.5","v":100,"j":4},{"c":"ipgD 2.5","v":100,"j":5},{"c":"ipgD 2.5","v":100,"j":6},
  {"c":"ipgD 2.5","v":98,"j":1},{"c":"ipgD 2.5","v":96,"j":3},{"c":"ipgD 2.5","v":93,"j":0},{"c":"ipgD 2.5","v":91,"j":3},{"c":"ipgD 2.5","v":93,"j":4},{"c":"ipgD 2.5","v":87,"j":2},{"c":"ipgD 2.5","v":85,"j":3},{"c":"ipgD 2.5","v":82,"j":1},{"c":"ipgD 2.5","v":80,"j":4},{"c":"ipgD 2.5","v":77,"j":2},{"c":"ipgD 2.5","v":72,"j":0},{"c":"ipgD 2.5","v":72,"j":4},{"c":"ipgD 2.5","v":65,"j":2},{"c":"ipgD 2.5","v":64,"j":5},{"c":"ipgD 2.5","v":61,"j":0},{"c":"ipgD 2.5","v":58,"j":3},{"c":"ipgD 2.5","v":51,"j":1},{"c":"ipgD 2.5","v":51,"j":3},{"c":"ipgD 2.5","v":51,"j":5},{"c":"ipgD 2.5","v":45,"j":2},{"c":"ipgD 2.5","v":44,"j":4},{"c":"ipgD 2.5","v":41,"j":1},{"c":"ipgD 2.5","v":38,"j":3},{"c":"ipgD 2.5","v":35,"j":5},{"c":"ipgD 2.5","v":29,"j":1},{"c":"ipgD 2.5","v":28,"j":3},{"c":"ipgD 2.5","v":22,"j":2},{"c":"ipgD 2.5","v":17,"j":0},{"c":"ipgD 2.5","v":15,"j":3},{"c":"ipgD 2.5","v":10,"j":1},{"c":"ipgD 2.5","v":12,"j":3},
  {"c":"ipgD 2.5","v":1,"j":0},{"c":"ipgD 2.5","v":1,"j":1},{"c":"ipgD 2.5","v":1,"j":2},{"c":"ipgD 2.5","v":1,"j":3},{"c":"ipgD 2.5","v":1,"j":4},{"c":"ipgD 2.5","v":1,"j":5},{"c":"ipgD 2.5","v":1,"j":6},
  {"c":"ipgD 25","v":100,"j":2},{"c":"ipgD 25","v":100,"j":3},{"c":"ipgD 25","v":100,"j":4},{"c":"ipgD 25","v":100,"j":5},{"c":"ipgD 25","v":100,"j":6},
  {"c":"ipgD 25","v":97,"j":1},{"c":"ipgD 25","v":95,"j":3},{"c":"ipgD 25","v":96,"j":4},{"c":"ipgD 25","v":96,"j":5},{"c":"ipgD 25","v":91,"j":1},{"c":"ipgD 25","v":91,"j":2},{"c":"ipgD 25","v":93,"j":4},{"c":"ipgD 25","v":93,"j":5},{"c":"ipgD 25","v":85,"j":1},{"c":"ipgD 25","v":86,"j":3},{"c":"ipgD 25","v":84,"j":5},{"c":"ipgD 25","v":80,"j":2},{"c":"ipgD 25","v":80,"j":4},{"c":"ipgD 25","v":77,"j":5},{"c":"ipgD 25","v":72,"j":1},{"c":"ipgD 25","v":72,"j":3},{"c":"ipgD 25","v":70,"j":5},{"c":"ipgD 25","v":68,"j":1},{"c":"ipgD 25","v":67,"j":3},{"c":"ipgD 25","v":66,"j":4},{"c":"ipgD 25","v":65,"j":6},{"c":"ipgD 25","v":63,"j":1},{"c":"ipgD 25","v":64,"j":2},{"c":"ipgD 25","v":62,"j":4},{"c":"ipgD 25","v":61,"j":5},{"c":"ipgD 25","v":56,"j":2},{"c":"ipgD 25","v":56,"j":4},{"c":"ipgD 25","v":52,"j":3},{"c":"ipgD 25","v":48,"j":5},{"c":"ipgD 25","v":42,"j":2},{"c":"ipgD 25","v":40,"j":4},{"c":"ipgD 25","v":38,"j":1},{"c":"ipgD 25","v":31,"j":5},{"c":"ipgD 25","v":26,"j":3},{"c":"ipgD 25","v":28,"j":4},{"c":"ipgD 25","v":1,"j":1},{"c":"ipgD 25","v":1,"j":3}]},
  "mark": {"type": "point", "filled": false, "size": 18, "strokeWidth": 0.8, "opacity": 1},
  "encoding": {
   "x": {"field": "c", "type": "nominal", "scale": {"type": "band", "domain": ["WT 0.5","WT 2.5","WT 25","gap","ipgD 0.5","ipgD 2.5","ipgD 25"], "range": [535, 687], "paddingInner": 0, "paddingOuter": 0}, "axis": null},
   "xOffset": {"field": "j", "type": "ordinal", "scale": {"domain": [0, 1, 2, 3, 4, 5, 6]}},
   "y": {"field": "v", "type": "quantitative", "scale": {"domain": [0, 100], "range": [313, 218], "nice": false, "zero": false}, "axis": null},
   "color": {"condition": {"test": "indexof(datum.c, 'WT') == 0", "value": "#e04848"}, "value": "#4a4ae0"}}},
 {"data": {"values": [{"c":"WT 0.5","m":14.7},{"c":"WT 2.5","m":44.2},{"c":"WT 25","m":48.8},{"c":"ipgD 0.5","m":51.2},{"c":"ipgD 2.5","m":54},{"c":"ipgD 25","m":67}]},
  "mark": {"type": "tick", "size": 17, "thickness": 1.8, "opacity": 1},
  "encoding": {"x": {"field": "c", "type": "nominal", "axis": null}, "y": {"field": "m", "type": "quantitative", "axis": null},
   "color": {"condition": {"test": "indexof(datum.c, 'WT') == 0", "value": "#c01010"}, "value": "#1010c0"}}},
 {"data": {"values": [{}]}, "mark": {"type": "rect", "fill": null, "fillOpacity": 0, "stroke": "black", "strokeWidth": 1.3},
  "encoding": {"x": {"datum": "WT 0.5", "bandPosition": 0, "axis": null}, "x2": {"datum": "ipgD 25", "bandPosition": 1}, "y": {"datum": -1, "axis": null}, "y2": {"datum": 121}}},
 {"data": {"values": [{}]}, "mark": {"type": "rule", "color": "black", "strokeWidth": 1.3}, "encoding": {"x": {"datum": "gap", "axis": null}, "y": {"datum": -1, "axis": null}, "y2": {"datum": 121}}},
 {"data": {"values": [{"v":0},{"v":20},{"v":40},{"v":60},{"v":80},{"v":100}]}, "mark": {"type": "tick", "orient": "horizontal", "size": 4, "thickness": 1, "color": "black", "opacity": 1, "xOffset": -12.85},
  "encoding": {"x": {"datum": "WT 0.5", "axis": null}, "y": {"field": "v", "type": "quantitative", "axis": null}}},
 {"data": {"values": [{"v":0},{"v":20},{"v":40},{"v":60},{"v":80},{"v":100}]}, "mark": {"type": "text", "align": "right", "fontSize": 11, "dx": -6},
  "encoding": {"x": {"datum": "WT 0.5", "bandPosition": 0, "axis": null}, "y": {"field": "v", "type": "quantitative", "axis": null}, "text": {"field": "v"}}},
 {"data": {"values": [{"c":"WT 0.5","l":"0.5"},{"c":"WT 2.5","l":"2.5"},{"c":"WT 25","l":"25"},{"c":"ipgD 0.5","l":"0.5"},{"c":"ipgD 2.5","l":"2.5"},{"c":"ipgD 25","l":"25"}]}, "mark": {"type": "text", "fontSize": 11},
  "encoding": {"x": {"field": "c", "type": "nominal", "axis": null}, "y": {"datum": -12.6, "axis": null}, "text": {"field": "l"}}},
 {"data": {"values": [{}]}, "mark": {"type": "text", "text": "Histamine (μM)", "fontSize": 13}, "encoding": {"x": {"datum": "gap", "axis": null}, "y": {"datum": -28.4, "axis": null}}},
 {"data": {"values": [{}]}, "mark": {"type": "text", "text": "Ca²⁺ responses", "fontSize": 12, "angle": 270, "dy": -62}, "encoding": {"x": {"datum": "WT 0.5", "bandPosition": 0, "axis": null}, "y": {"datum": 41, "axis": null}}},
 {"data": {"values": [{}]}, "mark": {"type": "text", "text": "amplitude (%)", "fontSize": 12, "angle": 270, "dy": -47}, "encoding": {"x": {"datum": "WT 0.5", "bandPosition": 0, "axis": null}, "y": {"datum": 41, "axis": null}}},
 {"data": {"values": [{}]}, "mark": {"type": "rule", "color": "black", "strokeWidth": 1.2}, "encoding": {"x": {"datum": "WT 2.5", "axis": null}, "x2": {"datum": "ipgD 2.5"}, "y": {"datum": 134.7, "axis": null}}},
 {"data": {"values": [{}]}, "mark": {"type": "rule", "color": "black", "strokeWidth": 1.2}, "encoding": {"x": {"datum": "WT 2.5", "axis": null}, "y": {"datum": 134.7, "axis": null}, "y2": {"datum": 129.5}}},
 {"data": {"values": [{}]}, "mark": {"type": "rule", "color": "black", "strokeWidth": 1.2}, "encoding": {"x": {"datum": "ipgD 2.5", "axis": null}, "y": {"datum": 134.7, "axis": null}, "y2": {"datum": 129.5}}},
 {"data": {"values": [{}]}, "mark": {"type": "text", "text": "**", "fontSize": 16, "fontWeight": "bold"}, "encoding": {"x": {"datum": "gap", "axis": null}, "y": {"datum": 142, "axis": null}}},
 {"data": {"values": [{}]}, "mark": {"type": "text", "text": "WT", "fontSize": 13}, "encoding": {"x": {"datum": "WT 2.5", "axis": null}, "y": {"datum": 111.6, "axis": null}}},
 {"data": {"values": [{}]}, "mark": {"type": "text", "text": "ipgD", "fontSize": 13, "fontStyle": "italic"}, "encoding": {"x": {"datum": "ipgD 2.5", "axis": null}, "y": {"datum": 111.6, "axis": null}}},
 {"data": {"values": [{}]}, "mark": {"type": "text", "text": "C", "fontSize": 15, "fontWeight": "bold", "align": "left", "dx": -54}, "encoding": {"x": {"datum": "WT 0.5", "bandPosition": 0, "axis": null}, "y": {"datum": 137.9, "axis": null}}}
]},
{"layer": [
 {"data": {"values": [{"g":"WT","v":56,"j":6},{"g":"WT","v":54,"j":9},{"g":"WT","v":47,"j":6},{"g":"WT","v":43,"j":7},{"g":"WT","v":26,"j":9},{"g":"WT","v":21,"j":8}]},
  "mark": {"type": "square", "filled": true, "color": "black", "size": 85, "opacity": 1},
  "encoding": {
   "x": {"field": "g", "type": "nominal", "scale": {"type": "band", "domain": ["WT", "IpgD"], "range": [538, 682], "paddingInner": 0, "paddingOuter": 0}, "axis": null},
   "xOffset": {"field": "j", "type": "ordinal", "scale": {"domain": [0,1,2,3,4,5,6,7,8,9,10,11,12,13,14,15,16]}},
   "y": {"field": "v", "type": "quantitative", "scale": {"domain": [0, 100], "range": [520, 400], "nice": false, "zero": false}, "axis": null}}},
 {"data": {"values": [{"g":"IpgD","v":100,"j":8},{"g":"IpgD","v":88,"j":6},{"g":"IpgD","v":86,"j":9},{"g":"IpgD","v":83,"j":8},{"g":"IpgD","v":76,"j":6},{"g":"IpgD","v":71,"j":8},{"g":"IpgD","v":44,"j":8}]},
  "mark": {"type": "circle", "color": "#a0a0a0", "size": 50, "opacity": 1},
  "encoding": {"x": {"field": "g", "type": "nominal", "axis": null}, "xOffset": {"field": "j", "type": "ordinal"}, "y": {"field": "v", "type": "quantitative", "axis": null}}},
 {"data": {"values": [{"g":"WT","m":41},{"g":"IpgD","m":78.3}]},
  "mark": {"type": "tick", "size": 47, "thickness": 2.5, "color": "black", "opacity": 1},
  "encoding": {"x": {"field": "g", "type": "nominal", "axis": null}, "y": {"field": "m", "type": "quantitative", "axis": null}}},
 {"data": {"values": [{}]}, "mark": {"type": "rule", "color": "#444444", "strokeWidth": 1}, "encoding": {"x": {"datum": "WT", "bandPosition": 0, "axis": null}, "y": {"datum": 0, "axis": null}, "y2": {"datum": 100}}},
 {"data": {"values": [{}]}, "mark": {"type": "rule", "color": "#444444", "strokeWidth": 1}, "encoding": {"x": {"datum": "WT", "bandPosition": 0, "axis": null}, "x2": {"datum": "IpgD", "bandPosition": 1}, "y": {"datum": 0, "axis": null}}},
 {"data": {"values": [{"v":0},{"v":25},{"v":50},{"v":75},{"v":100}]}, "mark": {"type": "tick", "orient": "horizontal", "size": 4, "thickness": 1, "color": "#444444", "opacity": 1, "xOffset": -38},
  "encoding": {"x": {"datum": "WT", "axis": null}, "y": {"field": "v", "type": "quantitative", "axis": null}}},
 {"data": {"values": [{"v":0},{"v":25},{"v":50},{"v":75},{"v":100}]}, "mark": {"type": "text", "align": "right", "fontSize": 11, "dx": -6},
  "encoding": {"x": {"datum": "WT", "bandPosition": 0, "axis": null}, "y": {"field": "v", "type": "quantitative", "axis": null}, "text": {"field": "v"}}},
 {"data": {"values": [{"g":"WT"},{"g":"IpgD"}]}, "mark": {"type": "rule", "color": "#444444", "strokeWidth": 1},
  "encoding": {"x": {"field": "g", "type": "nominal", "axis": null}, "y": {"datum": 0, "axis": null}, "y2": {"datum": -3.3}}},
 {"data": {"values": [{"g":"WT"},{"g":"IpgD"}]}, "mark": {"type": "text", "fontSize": 12},
  "encoding": {"x": {"field": "g", "type": "nominal", "axis": null}, "y": {"datum": -12.5, "axis": null}, "text": {"field": "g"}}},
 {"data": {"values": [{}]}, "mark": {"type": "text", "text": "Cell response (%)", "fontSize": 12, "angle": 270, "dy": -36}, "encoding": {"x": {"datum": "WT", "bandPosition": 0, "axis": null}, "y": {"datum": 50, "axis": null}}},
 {"data": {"values": [{}]}, "mark": {"type": "rule", "color": "black", "strokeWidth": 1.2}, "encoding": {"x": {"datum": "WT", "axis": null}, "x2": {"datum": "IpgD"}, "y": {"datum": 113.3, "axis": null}}},
 {"data": {"values": [{}]}, "mark": {"type": "rule", "color": "black", "strokeWidth": 1.2}, "encoding": {"x": {"datum": "WT", "axis": null}, "y": {"datum": 113.3, "axis": null}, "y2": {"datum": 109.2}}},
 {"data": {"values": [{}]}, "mark": {"type": "rule", "color": "black", "strokeWidth": 1.2}, "encoding": {"x": {"datum": "IpgD", "axis": null}, "y": {"datum": 113.3, "axis": null}, "y2": {"datum": 109.2}}},
 {"data": {"values": [{}]}, "mark": {"type": "text", "text": "**", "fontSize": 16, "fontWeight": "bold", "dx": -36}, "encoding": {"x": {"datum": "IpgD", "axis": null}, "y": {"datum": 119.2, "axis": null}}},
 {"data": {"values": [{}]}, "mark": {"type": "text", "text": "E", "fontSize": 15, "fontWeight": "bold", "dx": -32}, "encoding": {"x": {"datum": "WT", "bandPosition": 0, "axis": null}, "y": {"datum": 113, "axis": null}}}
]}
]
}
